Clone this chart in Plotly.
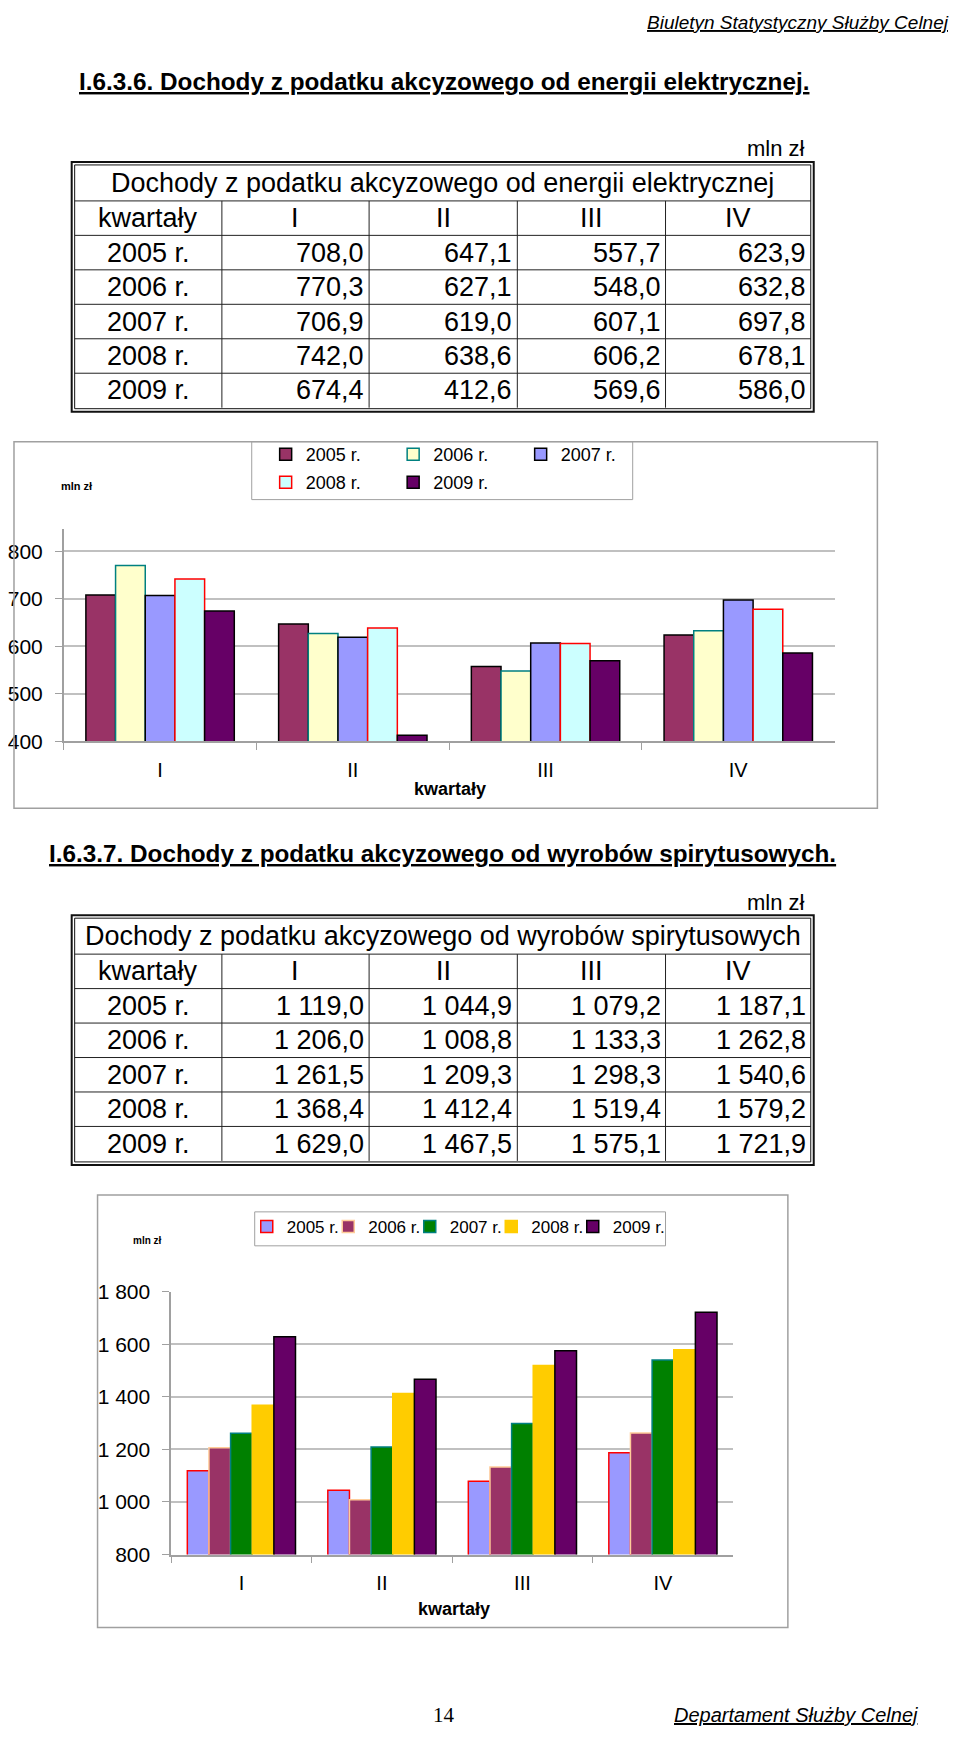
import plotly.graph_objects as go

# strona ma domyślny margines body 8 px, więc figura jest o 16 px mniejsza od okna
OFF = 8
W, H = 960 - 2 * OFF, 1742 - 2 * OFF
# zdjęcie strony jest lekko ściśnięte w pionie (zmierzone): y_zdj = SY * y + DY
SY, DY = 0.9877, 11

KWARTALY = ["I", "II", "III", "IV"]
LATA = ["2005 r.", "2006 r.", "2007 r.", "2008 r.", "2009 r."]

# dochody z akcyzy od energii elektrycznej, mln zł
energia_2005 = [708.0, 647.1, 557.7, 623.9]
energia_2006 = [770.3, 627.1, 548.0, 632.8]
energia_2007 = [706.9, 619.0, 607.1, 697.8]
energia_2008 = [742.0, 638.6, 606.2, 678.1]
energia_2009 = [674.4, 412.6, 569.6, 586.0]

# dochody z akcyzy od wyrobów spirytusowych, mln zł
spirytus_2005 = [1119.0, 1044.9, 1079.2, 1187.1]
spirytus_2006 = [1206.0, 1008.8, 1133.3, 1262.8]
spirytus_2007 = [1261.5, 1209.3, 1298.3, 1540.6]
spirytus_2008 = [1368.4, 1412.4, 1519.4, 1579.2]
spirytus_2009 = [1629.0, 1467.5, 1575.1, 1721.9]

energia = [energia_2005, energia_2006, energia_2007, energia_2008, energia_2009]
spirytus = [spirytus_2005, spirytus_2006, spirytus_2007, spirytus_2008, spirytus_2009]

# kolory jak w Excelu
KOLORY_1 = ["#993366", "#FFFFCC", "#9999FF", "#CCFFFF", "#660066"]
RAMKI_1 = ["#000000", "#008080", "#000000", "#FF0000", "#000000"]
KOLORY_2 = ["#9999FF", "#993366", "#008000", "#FFCC00", "#660066"]
RAMKI_2 = ["#FF0000", "#FFCC99", "#008080", "#FFCC00", "#000000"]

FONT = "Liberation Sans, Arial, sans-serif"


# współrzędne podawane w pikselach strony
def px(x):
    return (x - OFF) / W


def py(y, raw=False):
    if not raw:
        y = (y - DY) / SY
    return 1 - (y - OFF) / H


def fmt(v):
    return f"{v:,.1f}".replace(",", " ").replace(".", ",")


shapes = []
annotations = []


def tekst(x, y, t, size, anchor="center", raw=False, **kw):
    annotations.append(dict(
        x=px(x), y=py(y, raw), xref="paper", yref="paper", text=t, showarrow=False,
        xanchor=anchor, yanchor="middle", font=dict(family=kw.pop("family", FONT), size=size, color="black"),
        **kw,
    ))


def linia(x0, y0, x1, y1, color="#222222", width=1):
    shapes.append(dict(type="line", xref="paper", yref="paper",
                       x0=px(x0), y0=py(y0), x1=px(x1), y1=py(y1),
                       line=dict(color=color, width=width)))


def ramka(x0, y0, x1, y1, color, width):
    shapes.append(dict(type="rect", xref="paper", yref="paper",
                       x0=px(x0), y0=py(y0), x1=px(x1), y1=py(y1),
                       line=dict(color=color, width=width), fillcolor="rgba(0,0,0,0)"))


def tabela(top, tytul, dane):
    cols = [70, 218, 366, 515, 664, 810]
    rows = [top + 39 + i * 34.5 for i in range(7)]
    ramka(67, top, 813, top + 250, "#111111", 2)
    ramka(70, top + 3, 810, top + 247, "#111111", 1)
    for r in rows[:-1]:
        linia(70, r, 810, r)
    for c in cols[1:-1]:
        linia(c, rows[0], c, rows[-1])
    tekst(440, (top + 3 + rows[0]) / 2, tytul, 27)
    yh = (rows[0] + rows[1]) / 2
    tekst((cols[0] + cols[1]) / 2, yh, "kwartały", 27)
    for j, k in enumerate(KWARTALY):
        tekst((cols[j + 1] + cols[j + 2]) / 2, yh, k, 27)
    for i, rok in enumerate(LATA):
        yr = (rows[i + 1] + rows[i + 2]) / 2
        tekst((cols[0] + cols[1]) / 2, yr, rok, 27)
        for j, v in enumerate(dane[i]):
            tekst(cols[j + 2] - 3, yr, fmt(v), 27, anchor="right")


fig = go.Figure()

for i, rok in enumerate(LATA):
    fig.add_trace(go.Bar(
        x=KWARTALY, y=energia[i], name=rok,
        marker=dict(color=KOLORY_1[i], line=dict(color=RAMKI_1[i], width=1.5)),
        xaxis="x", yaxis="y",
        legend="legend" if i < 3 else "legend2",
    ))

for i, rok in enumerate(LATA):
    fig.add_trace(go.Bar(
        x=KWARTALY, y=spirytus[i], name=rok,
        marker=dict(color=KOLORY_2[i], line=dict(color=RAMKI_2[i], width=1.5)),
        xaxis="x2", yaxis="y2",
        legend="legend3", legendwidth=60 if i == 4 else None,
    ))

# nagłówek i stopka strony (przy krawędziach, bez korekty)
tekst(951, 11, "<i><u>Biuletyn Statystyczny Służby Celnej</u></i>", 19, anchor="right", raw=True)
tekst(441, 1726, "14", 21, raw=True, family="Liberation Serif, Times New Roman, serif")
tekst(920, 1726, "<i><u>Departament Służby Celnej</u></i>", 20, anchor="right", raw=True)

tekst(72, 80, "<b><u>I.6.3.6. Dochody z podatku akcyzowego od energii elektrycznej.</u></b>", 24.3, anchor="left")
tekst(806, 148, "mln zł", 22, anchor="right")
tabela(161, "Dochody z podatku akcyzowego od energii elektrycznej", energia)

tekst(42, 853, "<b><u>I.6.3.7. Dochody z podatku akcyzowego od wyrobów spirytusowych.</u></b>", 24.3, anchor="left")
tekst(806, 902, "mln zł", 22, anchor="right")
tabela(915, "Dochody z podatku akcyzowego od wyrobów spirytusowych", spirytus)

# ramki wykresów i legend
ramka(9, 441, 877, 808, "#A0A0A0", 1.5)
ramka(248, 441, 631, 499, "#A0A0A0", 1)
ramka(93, 1195, 787, 1628, "#A0A0A0", 1.5)
ramka(251, 1212, 664, 1246, "#A0A0A0", 1)

tekst(72, 485, "<b>mln zł</b>", 11)
tekst(143, 1241, "<b>mln zł</b>", 10)
tekst(447, 789, "<b>kwartały</b>", 18)
tekst(451, 1610, "<b>kwartały</b>", 18)

os_x = dict(type="category", tickson="boundaries", ticks="outside", ticklen=7,
            tickcolor="#A0A0A0", showline=True, linecolor="#A0A0A0", linewidth=1.5,
            showgrid=False, ticklabelstandoff=10,
            tickfont=dict(family=FONT, size=20, color="black"))
os_y = dict(ticks="outside", ticklen=7, tickcolor="#A0A0A0", showline=True,
            linecolor="#A0A0A0", linewidth=1.5, showgrid=True, gridcolor="#C0C0C0",
            gridwidth=1.5, zeroline=False, ticklabelstandoff=8,
            tickfont=dict(family=FONT, size=21, color="black"))

leg = dict(orientation="h", xanchor="left", yanchor="middle", bgcolor="rgba(0,0,0,0)",
           borderwidth=0, font=dict(family=FONT, size=18, color="black"))

fig.update_layout(
    width=W, height=H,
    margin=dict(l=0, r=0, t=0, b=0),
    paper_bgcolor="white", plot_bgcolor="white",
    separators=", ",
    barmode="group", bargap=0.23, bargroupgap=0,
    xaxis=dict(os_x, domain=[px(59), px(834)], anchor="y"),
    yaxis=dict(os_y, domain=[py(741), py(528)], range=[400, 848], tick0=400, dtick=100, anchor="x"),
    xaxis2=dict(os_x, domain=[px(167), px(732)], anchor="y2"),
    yaxis2=dict(os_y, domain=[py(1555), py(1292)], range=[800, 1800], tick0=800, dtick=200,
                tickformat=",", anchor="x2"),
    legend=dict(leg, x=px(262), y=py(454), entrywidth=82.5),
    legend2=dict(leg, x=px(262), y=py(482), entrywidth=82.5),
    legend3=dict(leg, x=px(243), y=py(1227), entrywidth=36.5, font=dict(family=FONT, size=17, color="black")),
    shapes=shapes,
    annotations=annotations,
)

fig.write_html("out.html")
